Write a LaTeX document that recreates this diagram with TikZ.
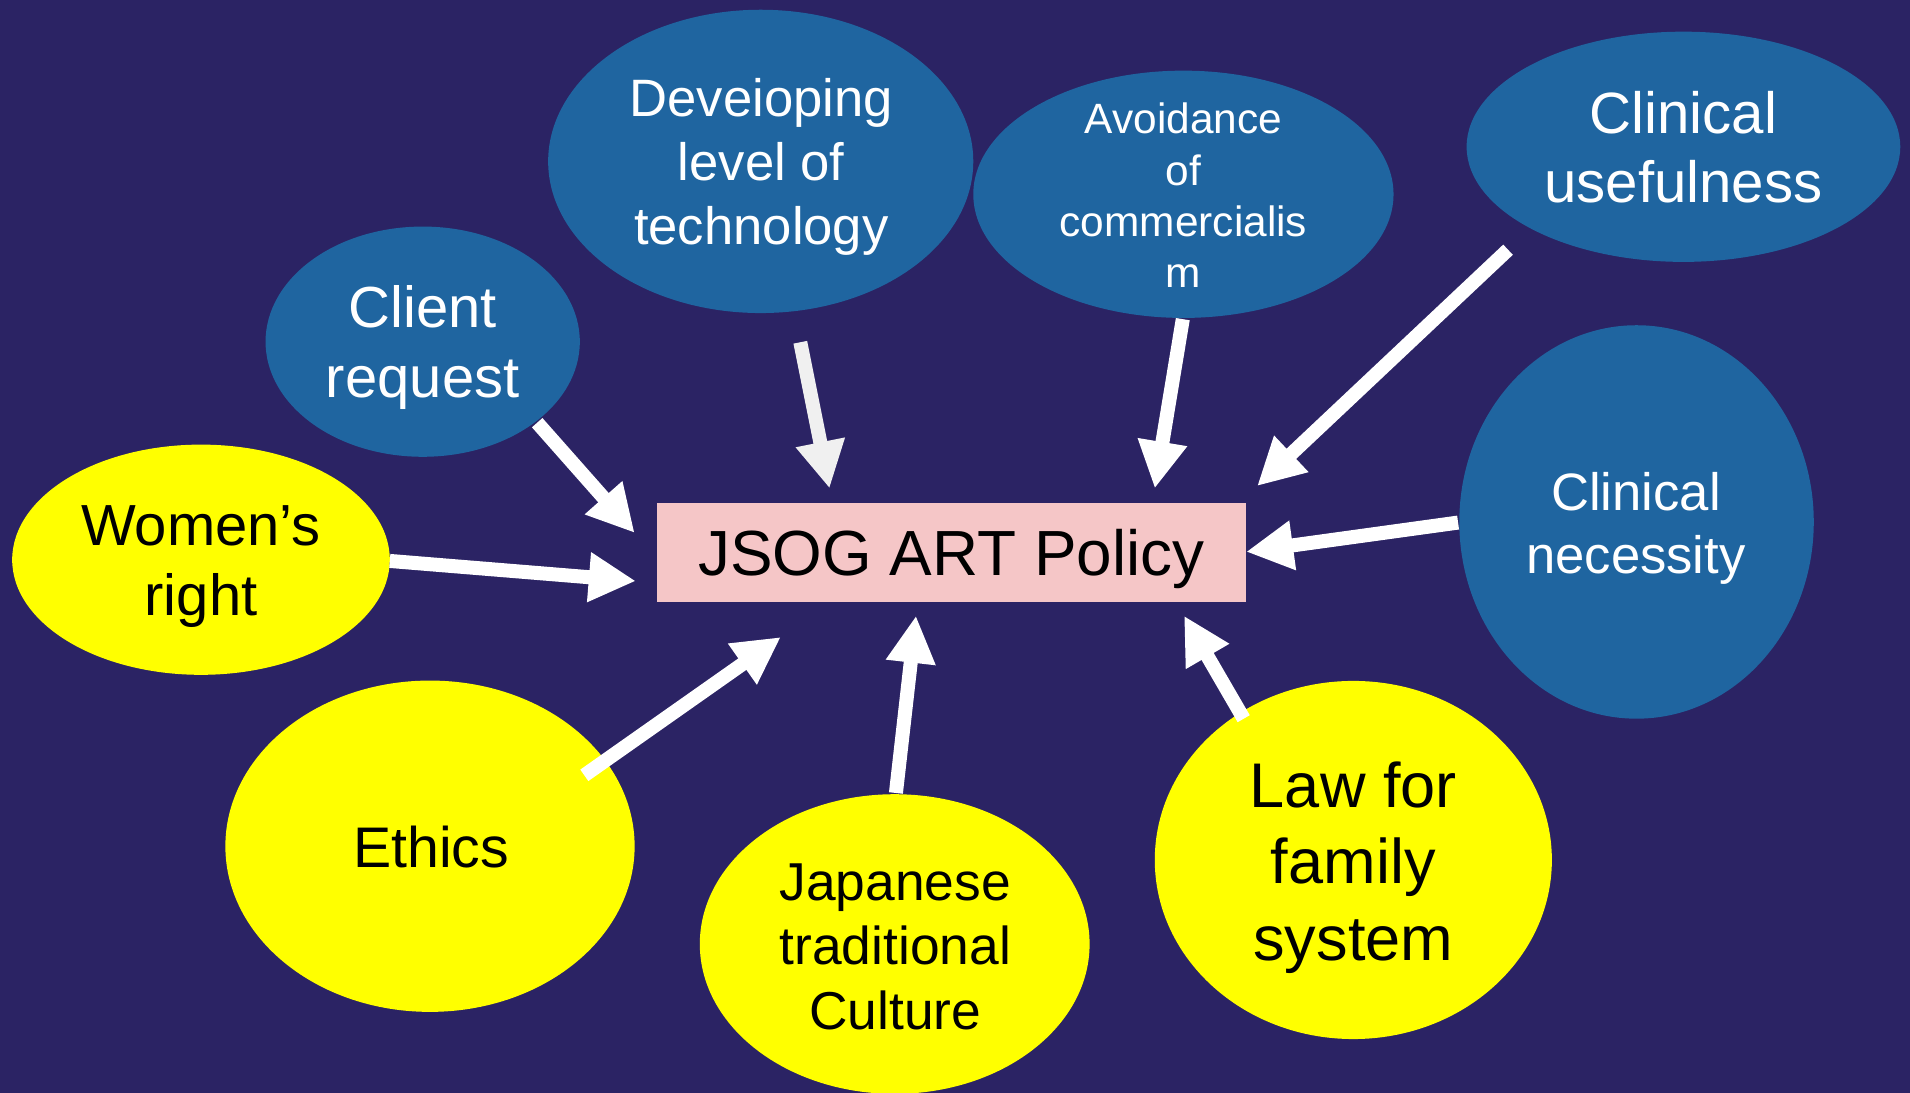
\documentclass[tikz,border=0pt]{standalone}
\usepackage{fontspec}
\setmainfont{Liberation Sans}
\usetikzlibrary{arrows.meta,shapes.geometric}
\definecolor{bg}{RGB}{43,35,100}
\definecolor{blueell}{RGB}{31,101,160}
\definecolor{yell}{RGB}{255,255,0}
\definecolor{pinkbox}{RGB}{245,198,199}
\definecolor{arrgray}{RGB}{240,240,240}
\begin{document}
\begin{tikzpicture}[x=0.5pt,y=-0.5pt,
  blueball/.style={ellipse, fill=blueell, inner sep=0pt, draw=none},
  yellowball/.style={ellipse, fill=yell, inner sep=0pt, draw=none},
  wtxt/.style={text=white, align=center, anchor=base, inner sep=0pt},
  btxt/.style={text=black, align=center, anchor=base, inner sep=0pt},
  arr/.style={line width=5.75pt, draw=white, -{Triangle[length=19.3pt,width=19.2pt]}},
]
\fill[bg] (0,0) rectangle (1568,897);
\useasboundingbox (0,0) rectangle (1568,897);

% ellipses
\node[blueball, minimum width=129pt, minimum height=94.5pt] (client) at (347,280.5) {};
\node[blueball, minimum width=174.5pt, minimum height=124.5pt] (develop) at (624.5,132.5) {};
\node[blueball, minimum width=172.5pt, minimum height=101.5pt] (avoid) at (971.5,159.5) {};
\node[blueball, minimum width=178pt, minimum height=94.5pt] (useful) at (1382,120.5) {};
\node[blueball, minimum width=145.5pt, minimum height=161.5pt] (necess) at (1343.5,428.5) {};
\node[yellowball, minimum width=155pt, minimum height=94.5pt] (women) at (165,459.5) {};
\node[yellowball, minimum width=168pt, minimum height=136pt] (ethics) at (353,694.7) {};
\node[yellowball, minimum width=160pt, minimum height=123pt] (japan) at (734.5,775) {};
\node[yellowball, minimum width=163pt, minimum height=147pt] (law) at (1111,706) {};

% central box
\node[rectangle, fill=pinkbox, minimum width=242pt, minimum height=40.5pt, inner sep=0pt,
      text height=18.8pt, text depth=0pt, font=\fontsize{26.2}{31}\selectfont] (policy) at (781,453.5) {JSOG ART Policy};

% texts (anchor=base is the baseline of the last line)
\node[wtxt, font=\fontsize{23.8}{28.75}\selectfont] (clientT) at (347,326.5) {Client\\request};
\node[wtxt, font=\fontsize{21.6}{26.15}\selectfont] (developT) at (625,200.4) {Deveioping\\level of\\technology};
\node[wtxt, font=\fontsize{17.4}{21.1}\selectfont] (avoidT) at (971.5,236.3) {Avoidance\\of\\commercialis\\m};
\node[wtxt, font=\fontsize{23.9}{28.2}\selectfont] (usefulT) at (1382,166.1) {Clinical\\usefulness};
\node[wtxt, font=\fontsize{21.6}{25.95}\selectfont] (necessT) at (1343,470.6) {Clinical\\necessity};
\node[btxt, font=\fontsize{23.8}{28.75}\selectfont] (womenT) at (165,505.5) {Women’s\\right};
\node[btxt, font=\fontsize{23.5}{28}\selectfont] (ethicsT) at (354,712) {Ethics};
\node[btxt, font=\fontsize{21.9}{26.45}\selectfont] (japanT) at (735,844.8) {Japanese\\traditional\\Culture};
\node[btxt, font=\fontsize{25.9}{31.6}\selectfont] (lawT) at (1111,788.9) {Law for\\family\\system};

% arrow end points
\coordinate (t1) at (441,347);    \coordinate (h1) at (521,437.5);
\coordinate (t2) at (657,281);    \coordinate (h2) at (681,401);
\coordinate (t3) at (971,262);    \coordinate (h3) at (948,401);
\coordinate (t4) at (1238,205);   \coordinate (h4) at (1032,399);
\coordinate (t5) at (1197,429);   \coordinate (h5) at (1023,453);
\coordinate (t6) at (320,460.5);  \coordinate (h6) at (522,477);
\coordinate (t7) at (479.7,636.5);\coordinate (h7) at (641,523);
\coordinate (t8) at (735.5,651);  \coordinate (h8) at (752,505.5);
\coordinate (t9) at (1021,590);   \coordinate (h9) at (972,505.5);

\draw[arr] (t1) -- (h1);
\draw[arr, draw=arrgray] (t2) -- (h2);
\draw[arr] (t3) -- (h3);
\draw[arr] (t4) -- (h4);
\draw[arr] (t5) -- (h5);
\draw[arr] (t6) -- (h6);
\draw[arr] (t7) -- (h7);
\draw[arr] (t8) -- (h8);
\draw[arr] (t9) -- (h9);
\end{tikzpicture}
\end{document}
